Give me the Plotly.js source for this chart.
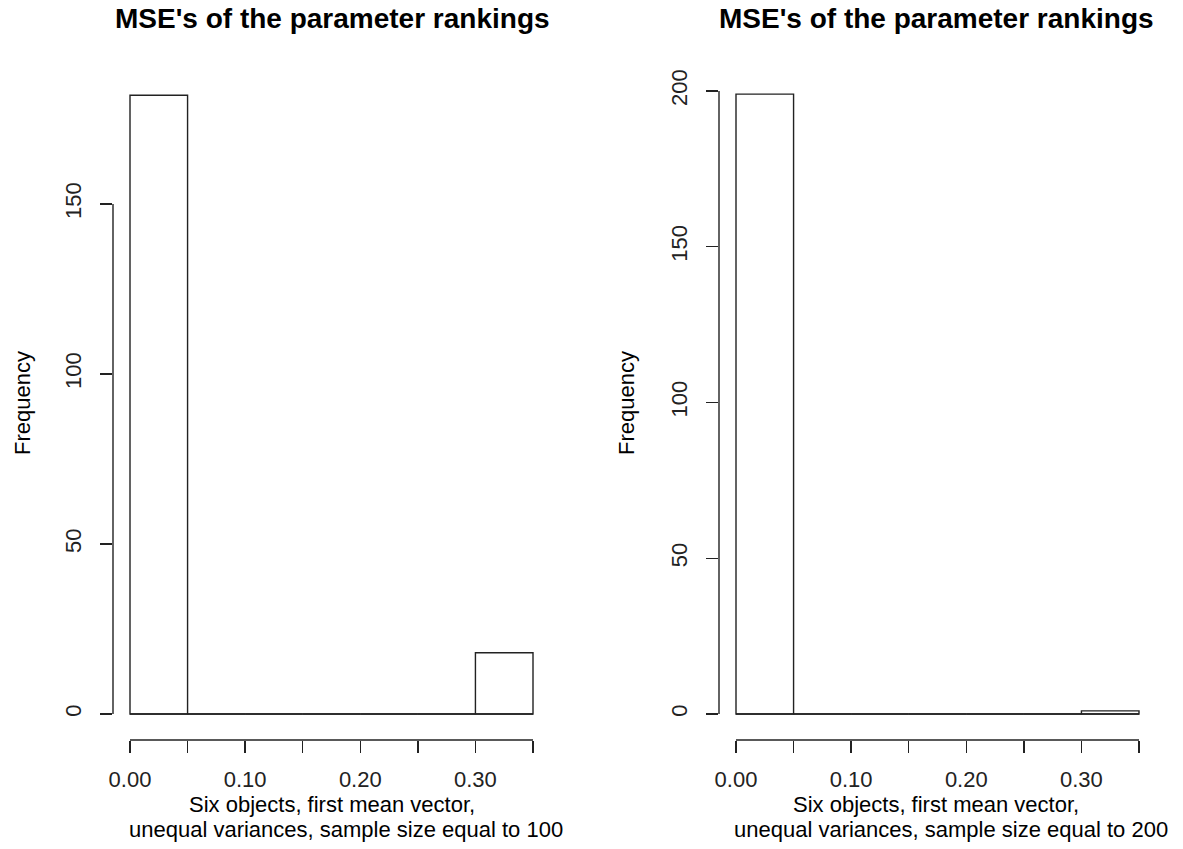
<!DOCTYPE html>
<html>
<head>
<meta charset="utf-8">
<script src="https://cdn.plot.ly/plotly-3.0.1.min.js"></script>
<style>html,body{margin:0;padding:0;background:#fff;}#chart{width:1183px;height:849px;}</style>
</head>
<body>
<div id="chart"></div>
<script>
// ---- data ----
const binEdges = [0, 0.05, 0.10, 0.15, 0.20, 0.25, 0.30, 0.35];
const countsN100 = [182, 0, 0, 0, 0, 0, 18];
const countsN200 = [199, 0, 0, 0, 0, 0, 1];
const xTickVals = [0, 0.05, 0.10, 0.15, 0.20, 0.25, 0.30, 0.35];
const xTickText = ["0.00", "", "0.10", "", "0.20", "", "0.30", ""];
const yTicksLeft = [0, 50, 100, 150];
const yTicksRight = [0, 50, 100, 150, 200];
const titleText = "MSE's of the parameter rankings";
const xLabel1 = "Six objects, first mean vector,";
const xLabel2Left = "unequal variances, sample size equal to 100";
const xLabel2Right = "unequal variances, sample size equal to 200";
const yLabel = "Frequency";

// ---- layout helpers ----
const W = 1183, H = 849;
const fx = p => p / W;
const fy = p => 1 - p / H;
const FONT = "Liberation Sans, Arial, sans-serif";
const INK = "#222";
const LW = 1.4;

const centers = binEdges.slice(0, -1).map((e, i) => (e + binEdges[i + 1]) / 2);
const widths = binEdges.slice(0, -1).map((e, i) => binEdges[i + 1] - e);
const xMin = binEdges[0], xMax = binEdges[binEdges.length - 1];

function barTrace(counts, xa, ya) {
  return {
    type: 'bar', x: centers, y: counts, width: widths,
    xaxis: xa, yaxis: ya,
    marker: {color: 'rgba(255,255,255,1)', line: {color: INK, width: LW}},
    hoverinfo: 'x+y', showlegend: false
  };
}
function baseTrace(xa, ya) {
  return {
    type: 'scatter', mode: 'lines', x: [xMin, xMax], y: [0, 0],
    xaxis: xa, yaxis: ya, line: {color: INK, width: LW},
    hoverinfo: 'skip', showlegend: false
  };
}

// pixel geometry
const plotBottom = 740, plotTop = 70, zeroPx = 714;
const kx = 403 / (xMax - xMin);
const gap = 17;
function xRange() { return [xMin - gap / kx, xMax + gap / kx]; }
function yRange(topVal, topPx) {
  const ky = (zeroPx - topPx) / topVal;
  return [-(plotBottom - zeroPx) / ky, (zeroPx - plotTop) / ky];
}

const tickFont = {family: FONT, size: 22, color: INK};
function xAxis(left, anchor) {
  return {
    domain: [fx(left), fx(left + 437)], range: xRange(), anchor: anchor,
    showgrid: false, zeroline: false, showline: false,
    ticks: 'outside', ticklen: 12, tickwidth: LW, tickcolor: INK,
    tickmode: 'array', tickvals: xTickVals, ticktext: xTickText,
    tickfont: tickFont, ticklabelstandoff: 8, fixedrange: true
  };
}
function yAxis(vals, topVal, topPx, anchor) {
  return {
    domain: [fy(plotBottom), fy(plotTop)], range: yRange(topVal, topPx), anchor: anchor,
    showgrid: false, zeroline: false, showline: false,
    ticks: 'outside', ticklen: 12, tickwidth: LW, tickcolor: INK,
    tickmode: 'array', tickvals: vals, ticktext: vals.map(String),
    tickangle: -90, tickfont: tickFont, ticklabelstandoff: 10, fixedrange: true
  };
}

const leftX = 113, rightX = 719;
const data = [
  barTrace(countsN100, 'x', 'y'), baseTrace('x', 'y'),
  barTrace(countsN200, 'x2', 'y2'), baseTrace('x2', 'y2')
];

const shapes = [
  {type: 'line', xref: 'x', yref: 'paper', x0: xMin, x1: xMax, y0: fy(plotBottom), y1: fy(plotBottom), line: {color: INK, width: LW}},
  {type: 'line', xref: 'x2', yref: 'paper', x0: xMin, x1: xMax, y0: fy(plotBottom), y1: fy(plotBottom), line: {color: INK, width: LW}},
  {type: 'line', xref: 'paper', yref: 'y', x0: fx(leftX), x1: fx(leftX), y0: yTicksLeft[0], y1: yTicksLeft[yTicksLeft.length - 1], line: {color: INK, width: LW}},
  {type: 'line', xref: 'paper', yref: 'y2', x0: fx(rightX), x1: fx(rightX), y0: yTicksRight[0], y1: yTicksRight[yTicksRight.length - 1], line: {color: INK, width: LW}}
];

function ann(text, xp, yp, size, bold, angle) {
  return {
    text: bold ? '<b>' + text + '</b>' : text, xref: 'paper', yref: 'paper',
    x: fx(xp), y: fy(yp), xanchor: 'center', yanchor: 'middle', showarrow: false,
    textangle: angle || 0, font: {family: FONT, size: size, color: '#000'}
  };
}

const annotations = [
  ann(titleText, 332, 18, 28, true),
  ann(titleText, 936, 18, 28, true),
  ann(xLabel1, 331.5, 804, 22),
  ann(xLabel2Left, 346, 829, 22),
  ann(xLabel1, 936, 804, 22),
  ann(xLabel2Right, 951, 829, 22),
  ann(yLabel, 22, 403, 22, false, -90),
  ann(yLabel, 626, 403, 22, false, -90)
];

const layout = {
  width: W, height: H,
  margin: {l: 0, r: 0, t: 0, b: 0},
  paper_bgcolor: '#fff', plot_bgcolor: '#fff',
  showlegend: false, bargap: 0,
  xaxis: xAxis(leftX, 'y'),
  yaxis: yAxis(yTicksLeft, 150, 204, 'x'),
  xaxis2: xAxis(rightX, 'y2'),
  yaxis2: yAxis(yTicksRight, 200, 91, 'x2'),
  shapes: shapes,
  annotations: annotations,
  font: {family: FONT, color: INK}
};

Plotly.newPlot('chart', data, layout, {displayModeBar: false, staticPlot: true});
</script>
</body>
</html>
